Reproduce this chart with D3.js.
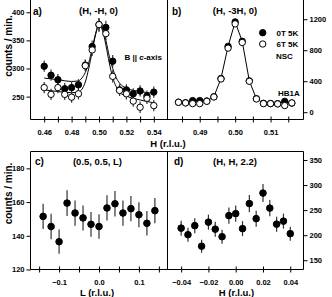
<!DOCTYPE html>
<html>
<head>
<meta charset="utf-8">
<script src="https://d3js.org/d3.v7.min.js"></script>
<style>
  body { margin: 0; background: #fff; }
  svg text { font-family: "Liberation Sans", Arial, sans-serif; font-weight: bold; fill: #000; }
</style>
</head>
<body>
<div class="chart"></div>
<script>
// ---- panel a) (H, -H, 0) ----
var aH    = [0.46, 0.465, 0.47, 0.475, 0.48, 0.485, 0.49, 0.495, 0.50, 0.505, 0.51, 0.515, 0.52, 0.525, 0.53, 0.535, 0.54];
var a0T   = [304, 288, 280, 264, 266, 271, 306, 339, 378, 373, 313, 262, 262, 255, 260, 251, 258];
var a6T   = [266, 254, 266, 254, 249, 255, 305, 333, 378, 362, 286, 261, 255, 242, 231, 247, 234];
var a0Err = [10, 10, 10, 10, 10, 10, 10, 11, 12, 12, 11, 10, 10, 10, 10, 10, 10];
var a6Err = [10, 10, 10, 10, 10, 10, 10, 11, 12, 12, 11, 10, 10, 10, 10, 10, 10];
// fitted curves
var aFitH  = [0.46, 0.47, 0.48, 0.485, 0.4875, 0.49, 0.4925, 0.495, 0.4975, 0.50, 0.5025, 0.505, 0.5075, 0.51, 0.5125, 0.515, 0.52, 0.53, 0.54];
var aFit0T = [283, 280, 277, 278, 283, 293, 310, 335, 362, 380, 372, 350, 322, 300, 284, 274, 265, 259, 256];
var aFit6T = [262, 259, 257, 258, 263, 276, 300, 330, 360, 377, 368, 342, 310, 284, 268, 258, 251, 244, 239];
var aTicks  = [0.46, 0.47, 0.48, 0.49, 0.50, 0.51, 0.52, 0.53, 0.54];
var aLabels = [0.46, 0.48, 0.50, 0.52, 0.54];
var aYTicks = [250, 300, 350, 400];

// ---- panel b) (H, -3H, 0) ----
var bH   = [0.484, 0.486, 0.488, 0.490, 0.492, 0.494, 0.496, 0.498, 0.500, 0.502, 0.504, 0.506, 0.508, 0.510, 0.512, 0.514, 0.516];
var b0T  = [130, 122, 150, 150, 145, 200, 435, 850, 1165, 915, 405, 175, 115, 112, 110, 140, 118];
var b6T  = [128, 120, 111, 111, 141, 197, 429, 827, 1140, 900, 399, 171, 111, 111, 107, 86, 120];
var bTicks  = [0.485, 0.49, 0.495, 0.50, 0.505, 0.51, 0.515];
var bLabels = [0.49, 0.50, 0.51];
var bYTicks = [0, 400, 800, 1200];

// ---- panel c) (0.5, 0.5, L) ----
var cL      = [-0.14, -0.12, -0.10, -0.08, -0.06, -0.04, -0.02, 0.0, 0.02, 0.04, 0.06, 0.08, 0.10, 0.12, 0.14];
var cCounts = [151.5, 145.5, 136.5, 159.4, 153.5, 150.6, 146.8, 145.5, 156.5, 159, 153.5, 156.1, 152.5, 147.4, 154.9];
var cErr    = [7.5, 7.5, 7.2, 7.6, 7.5, 7.4, 7.3, 7.3, 7.5, 7.6, 7.5, 7.5, 7.4, 7.3, 7.5];
var cTicks  = [-0.15, -0.1, -0.05, 0.0, 0.05, 0.1, 0.15];
var cLabels = [-0.1, 0.0, 0.1];
var cYTicks = [120, 140, 160, 180];

// ---- panel d) (H, H, 2.2) ----
var dH      = [-0.04, -0.035, -0.03, -0.025, -0.02, -0.015, -0.01, -0.005, 0.0, 0.005, 0.01, 0.015, 0.02, 0.025, 0.03, 0.035, 0.04];
var dCounts = [214, 201, 219, 178, 226, 212, 197, 239, 243, 213, 263, 233, 284, 254, 222, 228, 203];
var dErr    = [15, 14, 15, 13, 15, 15, 14, 16, 16, 15, 17, 16, 18, 16, 15, 15, 14];
var dTicks  = [-0.04, -0.02, 0.0, 0.02, 0.04];
var dYTicks = [150, 200, 250, 300, 350];

// panel edges
var L = 30.5, M = 167.5, R = 303.5,
    T1 = 0, B1 = 119.5,
    T2 = 151.5, B2 = 269.5;

var svg = d3.select(".chart").append("svg")
    .attr("width", 332)
    .attr("height", 297);

// scales
var xA = d3.scaleLinear().domain([0.45, 0.55]).range([L, M]);
var yA = d3.scaleLinear().domain([209.3, 421.8]).range([B1, T1]);
var xB = d3.scaleLinear().domain([0.4809, 0.5193]).range([M, R]);
var yB = d3.scaleLinear().domain([-94, 1448]).range([B1, T1]);
var xC = d3.scaleLinear().domain([-0.1716, 0.1716]).range([L, M]);
var yC = d3.scaleLinear().domain([120, 190]).range([B2, T2]);
var xD = d3.scaleLinear().domain([-0.05, 0.0497]).range([M, R]);
var yD = d3.scaleLinear().domain([131.5, 367]).range([B2, T2]);

// x axis with ticks crossing the frame line
function xAxis(scale, ticks, labels, fmt, yPos) {
  var ax = d3.axisBottom(scale)
      .tickValues(ticks)
      .tickSize(3)
      .tickFormat(function(d) {
        return labels.some(function(v) { return Math.abs(v - d) < 1e-9; }) ? fmt(d) : "";
      });
  var g = svg.append("g")
      .attr("transform", "translate(0," + yPos + ")")
      .call(ax);
  g.select(".domain").remove();
  g.selectAll(".tick line").attr("y1", -3).attr("y2", 3).attr("stroke", "#000");
  g.selectAll(".tick text").attr("y", 10).style("font-size", "7.5px");
}

function yAxis(scale, ticks, xPos, right) {
  var ax = (right ? d3.axisRight(scale) : d3.axisLeft(scale))
      .tickValues(ticks)
      .tickSize(4)
      .tickPadding(2)
      .tickFormat(d3.format("d"));
  var g = svg.append("g")
      .attr("transform", "translate(" + xPos + ",0)")
      .call(ax);
  g.select(".domain").remove();
  g.selectAll(".tick line").attr("stroke", "#000");
  g.selectAll(".tick text").style("font-size", "7.5px");
}

xAxis(xA, aTicks, aLabels, d3.format(".2f"), B1);
xAxis(xB, bTicks, bLabels, d3.format(".2f"), B1);
xAxis(xC, cTicks, cLabels, d3.format(".1f"), B2);
xAxis(xD, dTicks, dTicks, d3.format(".2f"), B2);
yAxis(yA, aYTicks, L, false);
yAxis(yB, bYTicks, R, true);
yAxis(yC, cYTicks, L, false);
yAxis(yD, dYTicks, R, true);

// frames (top of the upper panels is cut off)
svg.append("path")
    .attr("d", "M" + L + "," + T1 + "V" + B1 + "H" + R + "V" + T1 + "M" + M + "," + T1 + "V" + B1 +
               "M" + L + "," + T2 + "H" + R + "V" + B2 + "H" + L + "Z" + "M" + M + "," + T2 + "V" + B2)
    .attr("fill", "none")
    .attr("stroke", "#000")
    .attr("stroke-width", 1);

// draw error bars and dots
function errBars(xs, ys, errs, x, y) {
  svg.append("g").selectAll("line")
    .data(xs)
    .enter()
      .append("line")
      .attr("x1", function(d) { return x(d); })
      .attr("x2", function(d) { return x(d); })
      .attr("y1", function(d, i) { return y(ys[i] - errs[i]); })
      .attr("y2", function(d, i) { return y(ys[i] + errs[i]); })
      .attr("stroke", "#333")
      .attr("stroke-width", 1.2);
}

function dots(xs, ys, x, y, r, filled) {
  svg.append("g").selectAll("circle")
    .data(xs)
    .enter()
      .append("circle")
      .attr("cx", function(d) { return x(d); })
      .attr("cy", function(d, i) { return y(ys[i]); })
      .attr("r", r)
      .attr("fill", filled ? "#000" : "#fff")
      .attr("stroke", "#000")
      .attr("stroke-width", 1);
}

function curve(xs, ys, x, y, kind) {
  var line = d3.line()
      .x(function(d) { return x(d); })
      .y(function(d, i) { return y(ys[i]); })
      .curve(kind);
  svg.append("path")
      .datum(xs)
      .attr("fill", "none")
      .attr("stroke", "#000")
      .attr("stroke-width", 1)
      .attr("d", line);
}

// panel a
curve(aFitH, aFit0T, xA, yA, d3.curveMonotoneX);
curve(aFitH, aFit6T, xA, yA, d3.curveMonotoneX);
errBars(aH, a0T, a0Err, xA, yA);
errBars(aH, a6T, a6Err, xA, yA);
dots(aH, a0T, xA, yA, 3.2, true);
dots(aH, a6T, xA, yA, 3.2, false);

// panel b
curve(bH, b0T, xB, yB, d3.curveLinear);
dots(bH, b0T, xB, yB, 3.2, true);
dots(bH, b6T, xB, yB, 3.2, false);

// panel c
errBars(cL, cCounts, cErr, xC, yC);
dots(cL, cCounts, xC, yC, 3.3, true);

// panel d
errBars(dH, dCounts, dErr, xD, yD);
dots(dH, dCounts, xD, yD, 3.3, true);

// texts
function label(x, y, txt, size, anchor) {
  return svg.append("text")
      .attr("x", x)
      .attr("y", y)
      .attr("text-anchor", anchor || "start")
      .style("font-size", size + "px")
      .text(txt);
}

label(33, 14.5, "a)", 10);
label(98.5, 14, "(H, -H, 0)", 9.5, "middle");
label(172, 14.5, "b)", 10);
label(235, 14, "(H, -3H, 0)", 9.5, "middle");
label(35, 165, "c)", 10);
label(97.5, 165, "(0.5, 0.5, L)", 9.5, "middle");
label(174, 165, "d)", 10);
label(235, 165, "(H, H, 2.2)", 9.5, "middle");

var bc = label(124.5, 59.5, "", 8);
bc.append("tspan").text("B || ");
bc.append("tspan").style("font-style", "italic").text("c");
bc.append("tspan").text("-axis");

// legend
svg.append("circle").attr("cx", 262.7).attr("cy", 32.7).attr("r", 3.2).attr("fill", "#000").attr("stroke", "#000");
svg.append("circle").attr("cx", 262.7).attr("cy", 44).attr("r", 3.2).attr("fill", "#fff").attr("stroke", "#000");
label(276.5, 35.7, "0T 5K", 8);
label(276.5, 47, "6T 5K", 8);
label(276, 58.5, "NSC", 8);
label(278, 95.5, "HB1A", 8);

// axis titles
label(168, 147, "H (r.l.u.)", 9.5, "middle");
label(97, 295.5, "L (r.l.u.)", 9.5, "middle");
label(236.5, 295.5, "H (r.l.u.)", 9.5, "middle");

svg.append("text")
    .attr("transform", "translate(11.5,46) rotate(-90)")
    .attr("text-anchor", "middle")
    .style("font-size", "10px")
    .text("counts / min.");
svg.append("text")
    .attr("transform", "translate(11.5,193.5) rotate(-90)")
    .attr("text-anchor", "middle")
    .style("font-size", "10px")
    .text("counts / min.");
</script>
</body>
</html>
